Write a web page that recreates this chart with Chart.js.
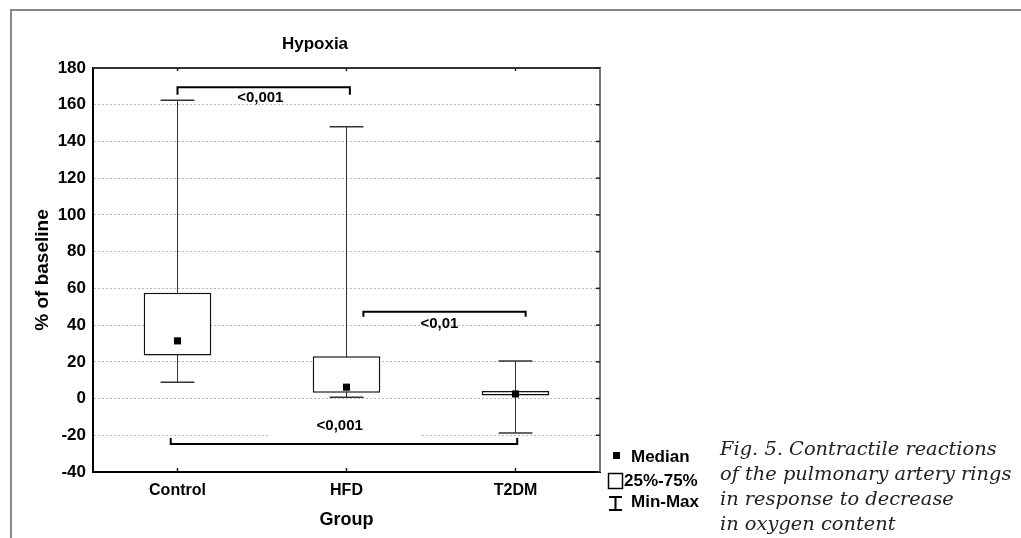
<!DOCTYPE html>
<html>
<head>
<meta charset="utf-8">
<script src="https://cdn.jsdelivr.net/npm/chart.js@4.4.0/dist/chart.umd.min.js"></script>
<style>
    html, body { margin: 0; padding: 0; background: #fff; }
    #wrap { position: relative; width: 1021px; height: 538px; overflow: hidden; }
    #frame { position: absolute; left: 10px; top: 9px; right: -10px; bottom: -10px; border-top: 2px solid #888; border-left: 2px solid #888; }
    #boxChart { position: absolute; left: 0; top: 0; }
    #caption { position: absolute; left: 720px; top: 436px; font: italic 19.4px "DejaVu Serif", serif; line-height: 25px; color: #222; white-space: nowrap; }
</style>
</head>
<body>
<div id="wrap">
    <div id="frame"></div>
    <canvas id="boxChart" width="1021" height="538"></canvas>
    <div id="caption">Fig. 5. Contractile reactions<br>of the pulmonary artery rings<br>in response to decrease<br>in oxygen content</div>
</div>
<script>
// values (% of baseline)
const groups = ["Control", "HFD", "T2DM"];
const minValues = [8.9, 0.7, -18.8];
const q1Values = [23.4, 3.1, 1.7];
const medianValues = [31.4, 6.2, 2.5];
const q3Values = [57.6, 23, 4.1];
const maxValues = [162.5, 148, 20.5];

const yTickValues = [-40, -20, 0, 20, 40, 60, 80, 100, 120, 140, 160, 180];

// significance brackets, x in category units, y in axis units
const bracketFrom = [0, 1.1, -0.04];
const bracketTo = [1.02, 2.06, 2.01];
const bracketLevel = [169.5, 47.2, -24.8];
const bracketEnd = [165.5, 44.5, -21.5];
const bracketLabels = ["<0,001", "<0,01", "<0,001"];
const bracketLabelX = [0.49, 1.55, 0.96];
const bracketLabelY = [164, 40.5, -15];
const bracketMasked = [false, false, true];

const sansFont = "'Liberation Sans', Arial, sans-serif";

const boxPlotDecor = {
    id: "boxPlotDecor",
    beforeDatasetsDraw(chart) {
        const { ctx, scales: { x, y } } = chart;
        const boxMeta = chart.getDatasetMeta(1);
        ctx.save();

        // whiskers (under the boxes)
        groups.forEach((g, i) => {
            const px = x.getPixelForValue(i);
            const half = boxMeta.data[i].width / 4;
            ctx.strokeStyle = "#333";
            ctx.lineWidth = 1;
            ctx.beginPath();
            ctx.moveTo(px, y.getPixelForValue(minValues[i]));
            ctx.lineTo(px, y.getPixelForValue(maxValues[i]));
            ctx.stroke();
            ctx.lineWidth = 1.5;
            [minValues[i], maxValues[i]].forEach(v => {
                const py = y.getPixelForValue(v);
                ctx.beginPath();
                ctx.moveTo(px - half, py);
                ctx.lineTo(px + half, py);
                ctx.stroke();
            });
        });

        // brackets
        ctx.font = "bold 15px " + sansFont;
        ctx.textAlign = "center";
        ctx.textBaseline = "middle";
        bracketLabels.forEach((label, i) => {
            const lx = x.getPixelForValue(bracketLabelX[i]);
            const ly = y.getPixelForValue(bracketLabelY[i]);
            if (bracketMasked[i]) {
                ctx.fillStyle = "#fff";
                ctx.fillRect(lx - 70, ly - 10, 152, 22);
            }
            const x1 = x.getPixelForValue(bracketFrom[i]);
            const x2 = x.getPixelForValue(bracketTo[i]);
            const yl = y.getPixelForValue(bracketLevel[i]);
            const ye = y.getPixelForValue(bracketEnd[i]);
            ctx.strokeStyle = "#000";
            ctx.lineWidth = 2;
            ctx.beginPath();
            ctx.moveTo(x1, ye);
            ctx.lineTo(x1, yl);
            ctx.lineTo(x2, yl);
            ctx.lineTo(x2, ye);
            ctx.stroke();
            ctx.fillStyle = "#000";
            ctx.fillText(label, lx, ly);
        });
        ctx.restore();
    },
    afterDraw(chart) {
        const { ctx, chartArea, scales: { x, y } } = chart;
        const { left, right, top, bottom } = chartArea;
        ctx.save();

        // top and right frame of the plot
        ctx.strokeStyle = "#333";
        ctx.lineWidth = 2;
        ctx.beginPath();
        ctx.moveTo(left, top);
        ctx.lineTo(right + 1, top);
        ctx.stroke();
        ctx.strokeStyle = "#777";
        ctx.beginPath();
        ctx.moveTo(right, top);
        ctx.lineTo(right, bottom);
        ctx.stroke();

        // small inner ticks
        ctx.strokeStyle = "#222";
        ctx.lineWidth = 1.5;
        groups.forEach((g, i) => {
            const px = x.getPixelForValue(i);
            ctx.beginPath();
            ctx.moveTo(px, top);
            ctx.lineTo(px, top + 3);
            ctx.moveTo(px, bottom - 4);
            ctx.lineTo(px, bottom);
            ctx.stroke();
        });
        y.ticks.forEach(t => {
            const py = y.getPixelForValue(t.value);
            ctx.beginPath();
            ctx.moveTo(right - 4, py);
            ctx.lineTo(right, py);
            ctx.stroke();
        });

        // legend
        const lx = right + 8;
        ctx.fillStyle = "#000";
        ctx.strokeStyle = "#000";
        ctx.font = "bold 17px " + sansFont;
        ctx.textBaseline = "alphabetic";
        ctx.textAlign = "left";
        ctx.fillRect(lx + 5, 452, 7, 7);
        ctx.fillText("Median", lx + 23, 462);
        ctx.lineWidth = 1.5;
        ctx.strokeRect(lx + 0.5, 473.5, 14, 15);
        ctx.fillText("25%-75%", lx + 16, 486);
        ctx.lineWidth = 2;
        ctx.beginPath();
        ctx.moveTo(lx + 1, 497);
        ctx.lineTo(lx + 14, 497);
        ctx.moveTo(lx + 7.5, 497);
        ctx.lineTo(lx + 7.5, 510);
        ctx.moveTo(lx + 1, 510);
        ctx.lineTo(lx + 14, 510);
        ctx.stroke();
        ctx.fillText("Min-Max", lx + 23, 507);
        ctx.restore();
    }
};

const ctx = document.getElementById("boxChart").getContext("2d");

new Chart(ctx, {
    data: {
        labels: groups,
        datasets: [
            {
                type: "line",
                label: "Median",
                data: medianValues,
                showLine: false,
                pointStyle: "rect",
                pointRadius: 5,
                pointBackgroundColor: "#000",
                pointBorderWidth: 0,
                order: 0
            },
            {
                type: "bar",
                label: "25%-75%",
                data: groups.map((g, i) => [q1Values[i], q3Values[i]]),
                backgroundColor: "#fff",
                borderColor: "#111",
                borderWidth: 1.5,
                borderSkipped: false,
                barPercentage: 0.4,
                categoryPercentage: 1,
                order: 1
            }
        ]
    },
    options: {
        responsive: false,
        animation: false,
        layout: { padding: { left: 30, right: 421, top: 20, bottom: 0 } },
        plugins: {
            legend: { display: false },
            tooltip: { enabled: false },
            title: {
                display: true,
                text: "Hypoxia",
                color: "#000",
                font: { family: sansFont, size: 17, weight: "bold" },
                padding: { top: 14, bottom: 13.6 }
            }
        },
        scales: {
            x: {
                type: "category",
                offset: true,
                grid: { display: false, drawTicks: false },
                border: { display: true, color: "#000", width: 2 },
                ticks: { color: "#000", padding: 9, font: { family: sansFont, size: 16, weight: "bold" } },
                title: {
                    display: true,
                    text: "Group",
                    color: "#000",
                    font: { family: sansFont, size: 18, weight: "bold" },
                    padding: { top: 0, bottom: 7 }
                },
                afterFit: s => { s.height = 66; }
            },
            y: {
                min: -40,
                max: 180,
                afterBuildTicks: s => { s.ticks = yTickValues.map(v => ({ value: v })); },
                grid: { color: "#b8b8b8", lineWidth: 1, drawTicks: false },
                border: { color: "#000", width: 2, dash: [2, 2] },
                ticks: { color: "#000", padding: 7, font: { family: sansFont, size: 17, weight: "bold" } },
                title: {
                    display: true,
                    text: "% of baseline",
                    color: "#000",
                    font: { family: sansFont, size: 19, weight: "bold" },
                    padding: { top: 1, bottom: 0 }
                },
                afterFit: s => { s.width = 63; }
            }
        }
    },
    plugins: [boxPlotDecor]
});
</script>
</body>
</html>
